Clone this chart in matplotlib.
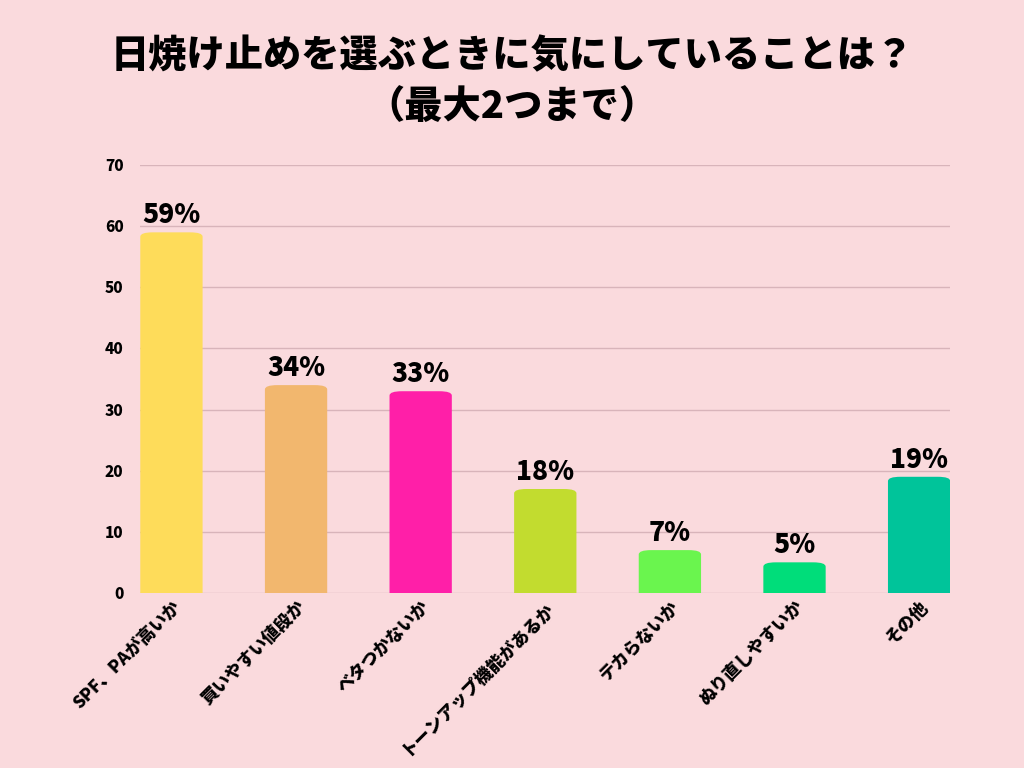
import matplotlib
matplotlib.use("Agg")
from matplotlib import pyplot as plt
from matplotlib.patches import FancyBboxPatch

plt.rcParams['font.family'] = ['Noto Sans CJK JP', 'DejaVu Sans']

# data
categories = ["SPF、PAが高いか", "買いやすい値段か", "ベタつかないか", "トーンアップ機能があるか",
              "テカらないか", "ぬり直しやすいか", "その他"]
values = [59, 34, 33, 17, 7, 5, 19]
value_labels = ["59%", "34%", "33%", "18%", "7%", "5%", "19%"]
colors = ["#FEDC5A", "#F2B76E", "#FF1FA8", "#C2DC2F", "#6AF54E", "#00DD7A", "#00C49A"]

bg = "#FADADD"
fig = plt.figure(figsize=(10.24, 7.68), dpi=100, facecolor=bg)
ax = fig.add_axes([0.137, 0.228, 0.791, 0.557], facecolor=bg)

bars = ax.bar(range(len(values)), values, width=0.5, color=colors)

# swap plain bars for ones with rounded tops
for b, c in zip(bars, colors):
    b.set_visible(False)
    x0, w, h = b.get_x(), b.get_width(), b.get_height()
    rounded = FancyBboxPatch((x0, -3), w, h + 3,
                             boxstyle="round,pad=0,rounding_size=0.1",
                             mutation_aspect=7, facecolor=c, edgecolor="none")
    ax.add_patch(rounded)

for i, (v, lab) in enumerate(zip(values, value_labels)):
    ax.text(i, v + 0.5, lab, ha="center", va="bottom", fontsize=19, fontweight="black")

ax.set_xlim(-0.25, len(values) - 0.75)
ax.set_ylim(0, 70)
ax.set_yticks(range(0, 71, 10))
ax.yaxis.grid(True, color="#D8B4BA", linewidth=1)
ax.set_axisbelow(True)
for s in ax.spines.values():
    s.set_visible(False)
ax.tick_params(axis="both", length=0)
ax.tick_params(axis="y", pad=12, labelsize=11)
for t in ax.get_yticklabels():
    t.set_fontweight("black")

ax.set_xticks(range(len(categories)))
ax.set_xticklabels(categories, rotation=45, ha="right", rotation_mode="anchor",
                   fontsize=12.5, fontweight="black")

fig.text(0.5, 0.893, "日焼け止めを選ぶときに気にしていることは？\n（最大2つまで）",
         ha="center", va="center", fontsize=27.5, fontweight="black", linespacing=1.45)

fig.savefig("out.png", dpi=100, facecolor=bg)
